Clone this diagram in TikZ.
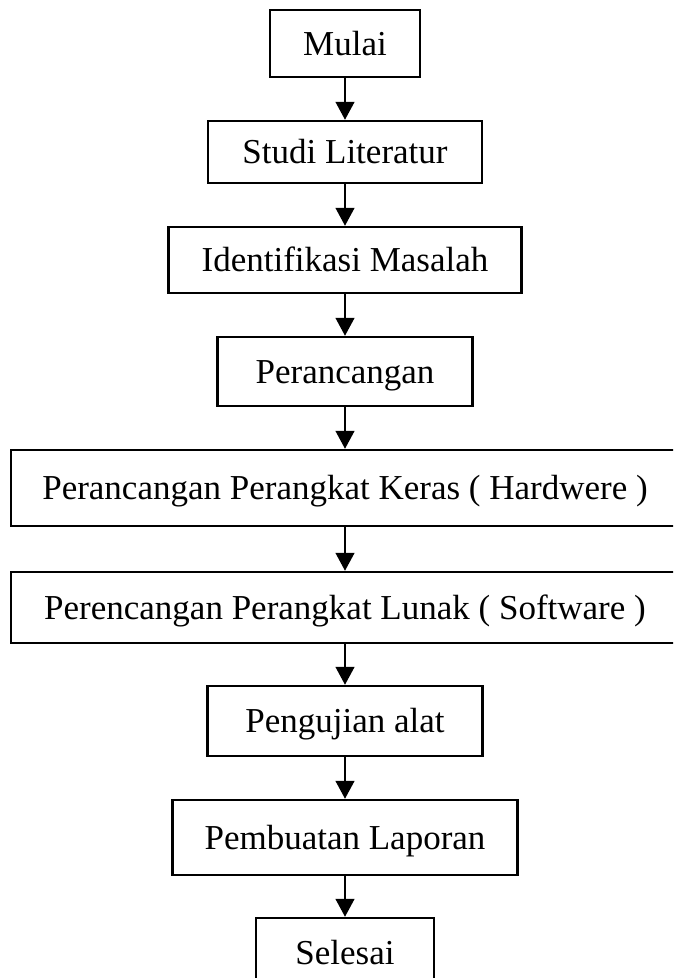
\documentclass[tikz,border=0pt]{standalone}
\usepackage{fontspec}
\setmainfont{Liberation Serif}
\usetikzlibrary{arrows.meta}

\tikzset{
  kotak/.style={draw, line width=2.5pt, inner sep=0pt, align=center,
    font=\fontsize{35}{42}\selectfont, text height=23pt, text depth=0pt},
  panah/.style={-{Triangle[length=18pt, width=19pt]}, line width=1.5pt}
}

\begin{document}
\begin{tikzpicture}[x=1pt, y=-1pt]
        \useasboundingbox (0,0) rectangle (673,978);
        \clip (0,0) rectangle (673,978);

        \node[kotak, minimum width=150pt, minimum height=67pt] (mulai) at (345,43.5) {Mulai};
        \node[kotak, minimum width=274pt, minimum height=62pt] (studi) at (345,152) {Studi Literatur};
        \node[kotak, minimum width=353pt, minimum height=66pt] (identifikasi) at (345,260) {Identifikasi Masalah};
        \node[kotak, minimum width=255pt, minimum height=69pt] (perancangan) at (345,371.5) {Perancangan};
        \node[kotak, minimum width=668pt, minimum height=76pt] (hardware) at (345,488) {Perancangan Perangkat Keras ( Hardwere )};
        \node[kotak, minimum width=668pt, minimum height=71pt] (software) at (345,607.5) {Perencangan Perangkat Lunak ( Software )};
        \node[kotak, minimum width=275pt, minimum height=70pt] (pengujian) at (345,721) {Pengujian alat};
        \node[kotak, minimum width=345pt, minimum height=75pt] (laporan) at (345,837.5) {Pembuatan Laporan};
        \node[kotak, minimum width=178pt, minimum height=70pt] (selesai) at (345,953) {Selesai};

        \draw[panah] (mulai) -- (studi);
        \draw[panah] (studi) -- (identifikasi);
        \draw[panah] (identifikasi) -- (perancangan);
        \draw[panah] (perancangan) -- (hardware);
        \draw[panah] (hardware) -- (software);
        \draw[panah] (software) -- (pengujian);
        \draw[panah] (pengujian) -- (laporan);
        \draw[panah] (laporan) -- (selesai);
\end{tikzpicture}
\end{document}
